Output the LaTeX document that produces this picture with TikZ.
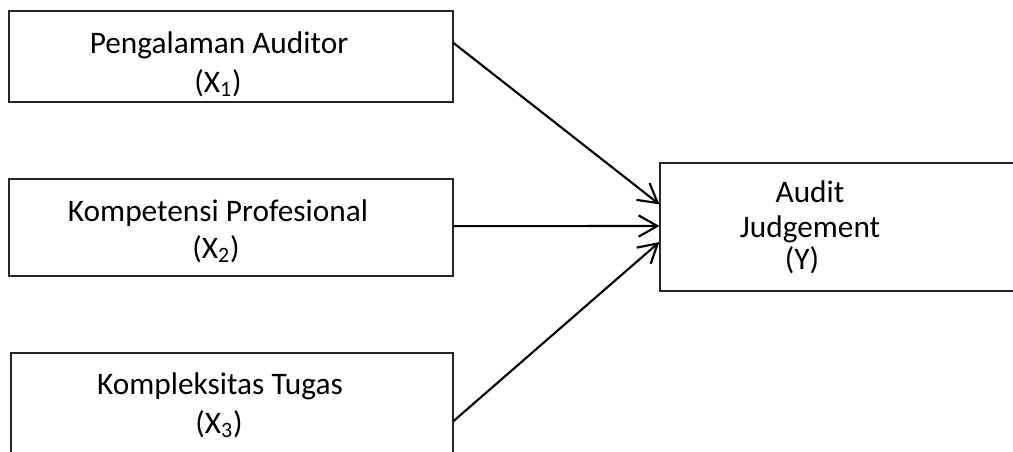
\documentclass[tikz,border=0pt]{standalone}
\usepackage{fontspec}
\setmainfont{Carlito}
\usetikzlibrary{arrows.meta}
\begin{document}
\begin{tikzpicture}[x=0.75pt,y=-0.75pt,
  box/.style={draw=black!85,line width=0.9pt,rectangle,inner sep=0pt,fill=none},
  lbl/.style={anchor=base,inner sep=0pt,font=\fontsize{23.5}{28}\selectfont},
  arr/.style={line width=1.6pt,-{Straight Barb[length=14pt,width=16pt,line width=1.6pt]}}]
\useasboundingbox (0,0) rectangle (1013,451);
\clip (0,0) rectangle (1013,451);
\node[box,minimum width=333pt,minimum height=68.25pt] (b1) at (231,56.5) {};
\node[box,minimum width=333pt,minimum height=72.75pt] (b2) at (231,227.5) {};
\node[box,minimum width=331.5pt,minimum height=94.5pt] (b3) at (232,416) {};
\node[box,minimum width=277.5pt,minimum height=96pt] (y) at (845,227) {};
\node[lbl] (t1a) at (219,53) {Pengalaman Auditor};
\node[lbl] (t1b) at (218,92) {(X\textsubscript{1})};
\node[lbl] (t2a) at (218,221) {Kompetensi Profesional};
\node[lbl] (t2b) at (216,258) {(X\textsubscript{2})};
\node[lbl] (t3a) at (220,394) {Kompleksitas Tugas};
\node[lbl] (t3b) at (219,433) {(X\textsubscript{3})};
\node[lbl] (tya) at (810,202) {Audit};
\node[lbl] (tyb) at (810,237) {Judgement};
\node[lbl] (tyc) at (802,269) {(Y)};
\draw[arr] ([yshift=10.1pt]b1.east) -- ([yshift=17pt]y.west);
\draw[arr] ([yshift=1pt]b2.east) -- ([yshift=0.75pt]y.west);
\draw[arr] ([yshift=-3.75pt]b3.east) -- ([yshift=-11.25pt]y.west);
\end{tikzpicture}
\end{document}
